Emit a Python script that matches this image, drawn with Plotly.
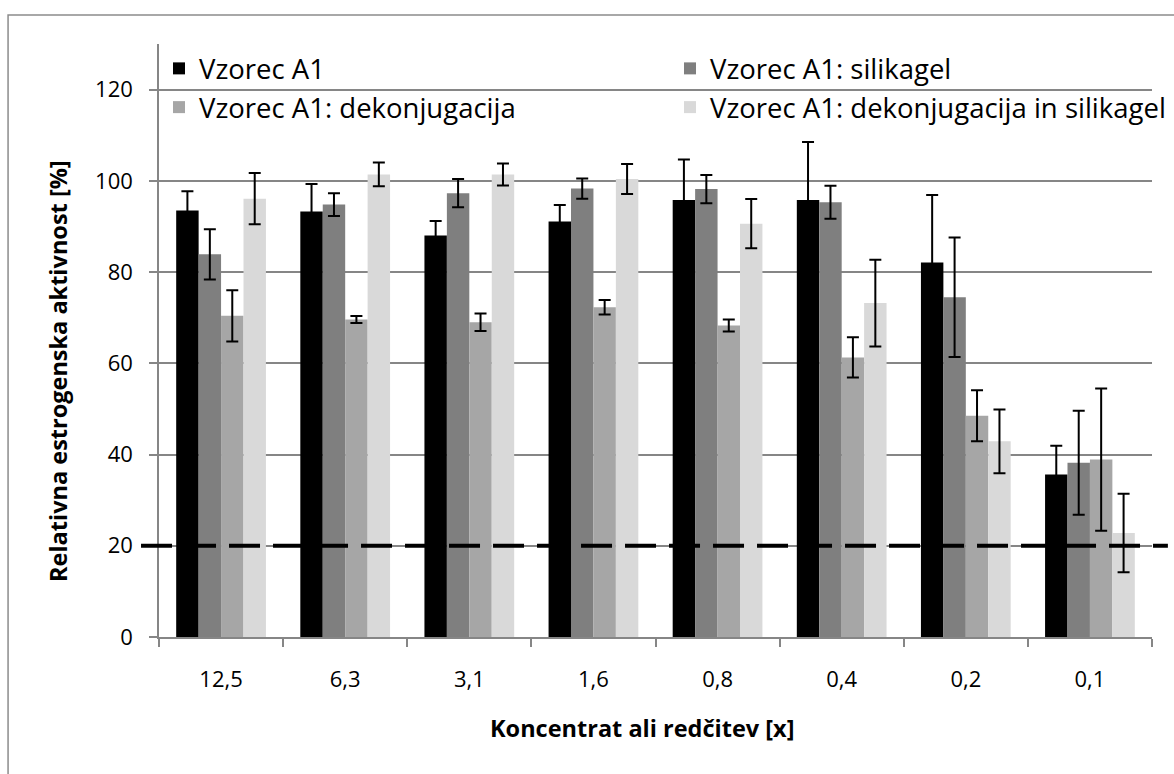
import plotly.graph_objects as go

categories = ["12,5", "6,3", "3,1", "1,6", "0,8", "0,4", "0,2", "0,1"]
series_names = ["Vzorec A1", "Vzorec A1: silikagel", "Vzorec A1: dekonjugacija",
                "Vzorec A1: dekonjugacija in silikagel"]
a1 = [93.5, 93.3, 88.0, 91.1, 95.8, 95.8, 82.1, 35.6]
a1_err = [4.2, 6.0, 3.2, 3.6, 8.9, 12.7, 14.8, 6.3]
sil = [83.9, 94.8, 97.3, 98.3, 98.2, 95.3, 74.5, 38.2]
sil_err = [5.5, 2.5, 3.1, 2.2, 3.1, 3.6, 13.1, 11.4]
dek = [70.4, 69.6, 69.0, 72.3, 68.3, 61.3, 48.5, 38.9]
dek_err = [5.6, 0.75, 1.9, 1.6, 1.3, 4.4, 5.6, 15.6]
dks = [96.1, 101.4, 101.4, 100.4, 90.6, 73.2, 42.9, 22.8]
dks_err = [5.6, 2.6, 2.4, 3.3, 5.4, 9.5, 7.0, 8.6]
threshold = 20
y_ticks = [0, 20, 40, 60, 80, 100, 120]

colors = ["#000000", "#7f7f7f", "#a6a6a6", "#d9d9d9"]
legend_ids = ["legend", "legend2", "legend", "legend2"]
FONT = "Open Sans"
GRID = "#868686"

fig = go.Figure()
for name, vals, errs, col, lg in zip(series_names, [a1, sil, dek, dks],
                                     [a1_err, sil_err, dek_err, dks_err], colors, legend_ids):
    fig.add_trace(go.Bar(
        x=categories, y=vals, name=name, legend=lg,
        marker=dict(color=col, line=dict(width=0)),
        error_y=dict(type="data", array=errs, visible=True,
                     color="#000000", thickness=2, width=6),
    ))

legend_common = dict(
    orientation="v", y=1.0, xanchor="left", yanchor="top",
    font=dict(family=FONT, size=27.5, color="#000000"),
    bgcolor="rgba(0,0,0,0)", tracegroupgap=0, traceorder="normal",
)

fig.update_layout(
    width=1174, height=774,
    margin=dict(l=159, r=22, t=44, b=137, autoexpand=False),
    paper_bgcolor="white", plot_bgcolor="white",
    barmode="group", bargap=0.277, bargroupgap=0,
    font=dict(family=FONT, color="#000000"),
    showlegend=True,
    legend=dict(x=0.0, **legend_common),
    legend2=dict(x=0.5146, **legend_common),
    xaxis=dict(
        type="category", showgrid=False, showline=True, linecolor=GRID, linewidth=1.5,
        ticks="outside", tickson="boundaries", ticklen=8, tickcolor=GRID, tickwidth=1.5,
        tickfont=dict(family=FONT, size=22, color="#000000"),
        ticklabelstandoff=22,
    ),
    yaxis=dict(
        range=[0, 130], tickvals=y_ticks, showgrid=True, gridcolor=GRID, gridwidth=1.5,
        showline=True, linecolor=GRID, linewidth=1.5, zeroline=False,
        ticks="outside", ticklen=8, tickcolor=GRID, tickwidth=1.5,
        tickfont=dict(family=FONT, size=22, color="#000000"),
        ticklabelstandoff=12,
    ),
    annotations=[
        dict(text="<b>Koncentrat ali redčitev [x]</b>", xref="paper", yref="paper",
             x=0.4864, y=-0.1535, showarrow=False, xanchor="center", yanchor="middle",
             font=dict(family=FONT, size=23.5, color="#000000")),
        dict(text="<b>Relativna estrogenska aktivnost [%]</b>", xref="paper", yref="paper",
             x=-0.1017, y=0.4486, showarrow=False, textangle=-90,
             xanchor="center", yanchor="middle",
             font=dict(family=FONT, size=23.5, color="#000000")),
    ],
    shapes=[
        dict(type="line", xref="paper", yref="y", x0=-0.0181, x1=1.016,
             y0=threshold, y1=threshold,
             line=dict(color="#000000", width=4, dash="31px,13px"), layer="above"),
        dict(type="rect", xref="paper", yref="paper", x0=-0.152, x1=1.2,
             y0=-0.5, y1=1.049, line=dict(color="#8c8c8c", width=1.5),
             fillcolor="rgba(0,0,0,0)", layer="below"),
    ],
)

fig.write_html("out.html")
